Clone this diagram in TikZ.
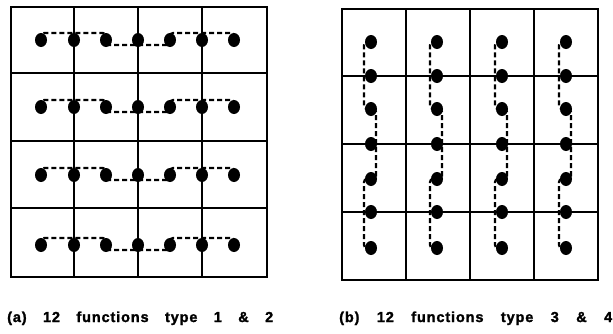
\documentclass[tikz,border=0pt]{standalone}
\usepackage{fontspec}
\usetikzlibrary{shapes.geometric}
\newfontfamily\capfont[LetterSpace=6, FakeBold=1.6]{Liberation Sans Bold}
\begin{document}
\begin{tikzpicture}[x=1pt,y=-1pt,
  frame/.style={line width=2pt, line cap=rect},
  dot/.style={ellipse, fill=black, minimum width=12pt, minimum height=14pt, inner sep=0pt},
  trail/.style={line width=2.2pt, dash pattern=on 5pt off 3pt, rounded corners=3pt},
  caption/.style={anchor=base west, inner sep=0pt, font=\capfont\fontsize{14.5pt}{16pt}\selectfont}]
\useasboundingbox (0,0) rectangle (613,333);

% ---- panel (a): 4 x 4 cells, horizontal chains ----
\draw[frame] (11,7) rectangle (267,277);
\foreach \x in {74,138,202} \draw[frame] (\x,7) -- (\x,277);
\foreach \y in {73,141,208} \draw[frame] (11,\y) -- (267,\y);

\foreach \r/\y in {1/40,2/107,3/175,4/245}{
  \foreach \k/\x in {1/41,2/74,3/106,4/138,5/170,6/202,7/234}
    \node[dot] (L-\r-\k) at (\x,\y) {};
  \draw[trail] (L-\r-1.center) |- ([yshift=7pt]L-\r-3.center)
               |- ([yshift=-5pt]L-\r-5.center)
               |- ([yshift=7pt]L-\r-7.center) -- (L-\r-7.center);
}

% ---- panel (b): 4 x 4 cells, vertical chains ----
\draw[frame] (342,9) rectangle (598,280);
\foreach \x in {406,470,534} \draw[frame] (\x,9) -- (\x,280);
\foreach \y in {76,144,212} \draw[frame] (342,\y) -- (598,\y);

\foreach \c/\x in {1/371,2/437,3/502,4/566}{
  \foreach \k/\y in {1/42,2/76,3/109,4/144,5/179,6/212,7/248}
    \node[dot] (R-\c-\k) at (\x,\y) {};
  \draw[trail] (R-\c-1.center) -| ([xshift=-7pt]R-\c-3.center)
               -| ([xshift=5pt]R-\c-5.center)
               -| ([xshift=-7pt]R-\c-7.center) -- (R-\c-7.center);
}

% ---- captions ----
\node[caption] (capA) at (7,322) {\makebox[266pt][s]{(a) 12 functions type 1 \& 2}};
\node[caption] (capB) at (339,322) {\makebox[273pt][s]{(b) 12 functions type 3 \& 4}};
\end{tikzpicture}
\end{document}
